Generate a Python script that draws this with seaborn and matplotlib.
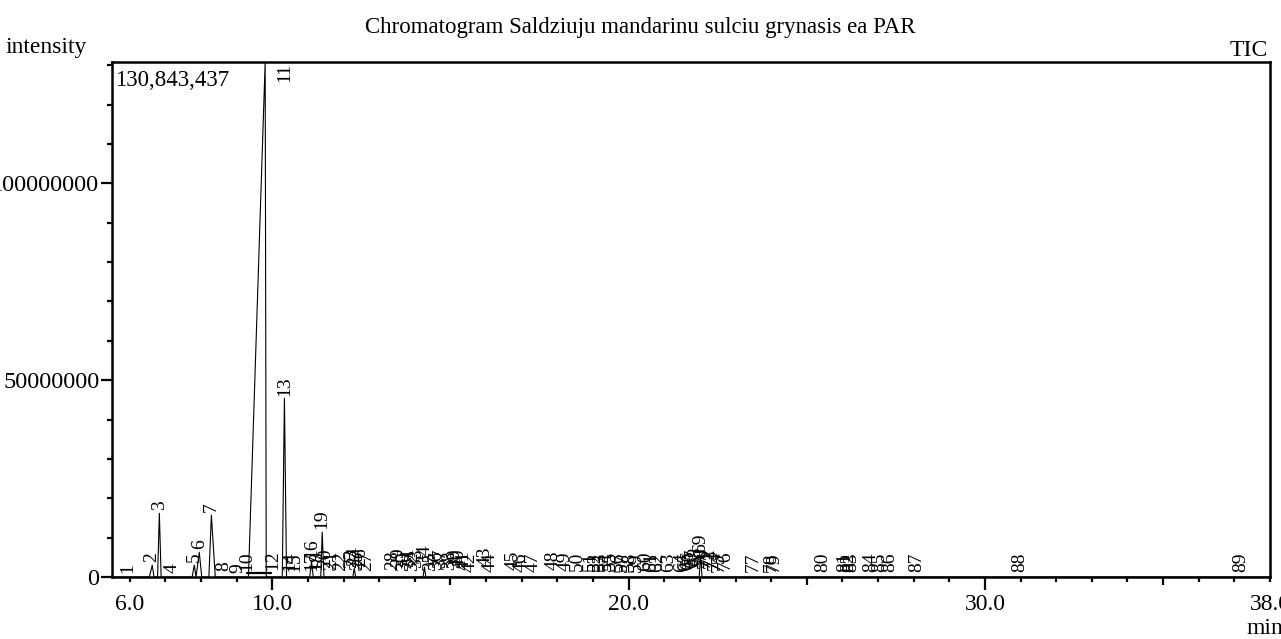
import matplotlib
matplotlib.use("Agg")
import matplotlib.pyplot as plt
from matplotlib.ticker import FixedLocator, FuncFormatter
import seaborn as sns

title = "Chromatogram Saldziuju mandarinu sulciu grynasis ea PAR"
max_intensity = 130843437

# peak table: number, retention time (min), apex intensity
peak_no = list(range(1, 90))
peak_rt = [5.93, 6.60, 6.83, 7.19, 7.81, 7.95, 8.29, 8.65, 9.02, 9.27,
           9.80, 10.00, 10.34, 10.48, 10.62, 11.10, 11.12, 11.24, 11.40, 11.49,
           11.66, 11.91, 12.22, 12.30, 12.39, 12.47, 12.64, 13.37, 13.54, 13.68,
           13.82, 13.93, 14.04, 14.27, 14.44, 14.61, 14.72, 14.97, 15.11, 15.25,
           15.37, 15.56, 15.98, 16.12, 16.77, 16.97, 17.33, 17.89, 18.23, 18.57,
           18.93, 19.07, 19.21, 19.38, 19.49, 19.72, 19.83, 20.03, 20.22, 20.48,
           20.65, 20.81, 21.12, 21.49, 21.60, 21.69, 21.80, 21.88, 22.02, 22.08,
           22.16, 22.25, 22.33, 22.42, 22.53, 22.70, 23.51, 23.99, 24.10, 25.45,
           26.07, 26.18, 26.26, 26.80, 27.05, 27.33, 28.09, 30.98, 37.19]
peak_height = [0.3e6, 3.0e6, 16.2e6, 0.3e6, 3.0e6, 6.3e6, 15.7e6, 0.8e6, 0.3e6, 0.8e6,
               130843437, 1.2e6, 45.4e6, 0.8e6, 0.5e6, 4.0e6, 0.8e6, 1.0e6, 11.4e6, 1.5e6,
               1.0e6, 0.8e6, 1.5e6, 2.2e6, 1.2e6, 1.8e6, 0.8e6, 1.2e6, 1.8e6, 0.8e6,
               1.8e6, 0.8e6, 1.5e6, 2.5e6, 0.8e6, 1.0e6, 1.5e6, 1.2e6, 1.5e6, 1.5e6,
               1.0e6, 0.6e6, 2.0e6, 0.6e6, 1.0e6, 0.5e6, 0.5e6, 1.0e6, 0.8e6, 0.8e6,
               0.8e6, 0.8e6, 0.8e6, 0.8e6, 1.0e6, 0.8e6, 0.6e6, 0.8e6, 0.6e6, 0.8e6,
               0.6e6, 0.5e6, 0.5e6, 0.6e6, 0.8e6, 1.2e6, 1.5e6, 2.0e6, 5.5e6, 2.0e6,
               1.5e6, 1.8e6, 1.5e6, 1.0e6, 0.6e6, 1.0e6, 0.5e6, 0.5e6, 0.5e6, 0.5e6,
               0.5e6, 0.5e6, 0.5e6, 0.5e6, 0.5e6, 0.5e6, 0.5e6, 0.5e6, 0.5e6]

# TIC trace vertices
trace_time = [5.50, 6.55, 6.63, 6.68, 6.78, 6.83, 6.88, 7.75, 7.81, 7.86,
              7.95, 8.02, 8.22, 8.29, 8.40, 9.33, 9.80, 9.83, 10.28, 10.34,
              10.40, 11.05, 11.10, 11.15, 11.36, 11.40, 11.45, 12.26, 12.30, 12.34,
              14.23, 14.27, 14.31, 21.98, 22.02, 22.06, 38.00]
trace_intensity = [0, 0, 3.0e6, 0, 0, 16.2e6, 0, 0, 3.0e6, 0,
                   6.3e6, 0, 0, 15.7e6, 0, 0, 130843437, 0, 0, 45.4e6,
                   0, 0, 4.0e6, 0, 0, 11.4e6, 0, 0, 2.2e6, 0,
                   0, 2.5e6, 0, 0, 5.5e6, 0, 0]

# integration baseline under the big peak
ibase_time = [9.28, 9.95]
ibase_intensity = [1.0e6, 1.0e6]

x_ticks = [6, 10, 20, 30, 38]
y_ticks = [0, 50000000, 100000000]

sns.set_style("ticks", {"axes.edgecolor": "black", "xtick.color": "black",
                        "ytick.color": "black", "text.color": "black",
                        "axes.labelcolor": "black"})
plt.rcParams['font.family'] = ['Liberation Serif', 'DejaVu Serif']

fig = plt.figure(figsize=(12.81, 6.39), dpi=100)
ax = fig.add_axes([0.0874, 0.097, 0.904, 0.806])

sns.lineplot(x=trace_time, y=trace_intensity, sort=False, estimator=None,
             color='black', lw=0.8, ax=ax)
sns.lineplot(x=ibase_time, y=ibase_intensity, sort=False, estimator=None,
             color='black', lw=1.6, ax=ax)

ax.set_xlim(5.5, 38.0)
ax.set_ylim(0, max_intensity)
ax.set_xlabel('')
ax.set_ylabel('')

for s in ax.spines.values():
    s.set_linewidth(1.8)
    s.set_color('black')

# x axis ticks
ax.xaxis.set_major_locator(FixedLocator(x_ticks))
ax.xaxis.set_major_formatter(FuncFormatter(lambda v, p: f'{v:.1f}'))
minor_x = [v for v in range(7, 38) if v not in (10, 20, 30)]
ax.xaxis.set_minor_locator(FixedLocator(minor_x))
ax.tick_params(axis='x', which='major', direction='out', length=9, width=1.6,
               pad=3, labelsize=17)
ax.tick_params(axis='x', which='minor', direction='out', length=3.5, width=1.6)
for t, v in zip(ax.xaxis.get_major_ticks(len(x_ticks)), x_ticks):
    if v in (6, 38):
        t.tick1line.set_markersize(3.5)
for t, v in zip(ax.xaxis.get_minor_ticks(len(minor_x)), minor_x):
    if v in (15, 25, 35):
        t.tick1line.set_markersize(5.5)

# y axis ticks
ax.yaxis.set_major_locator(FixedLocator(y_ticks))
ax.yaxis.set_major_formatter(FuncFormatter(lambda v, p: f'{int(v)}'))
ax.yaxis.set_minor_locator(FixedLocator([v * 1e7 for v in range(1, 14)]))
ax.tick_params(axis='y', which='major', direction='out', length=8, width=1.6,
               pad=1, labelsize=17.5)
ax.tick_params(axis='y', which='minor', direction='out', length=3.5, width=1.6)

# peak numbers
for n, rt, h in zip(peak_no, peak_rt, peak_height):
    if h >= 0.95 * max_intensity:
        ax.annotate(str(n), xy=(rt, max_intensity), xytext=(14, -1),
                    textcoords='offset points', rotation=90, ha='center',
                    va='top', fontsize=14)
    else:
        ax.annotate(str(n), xy=(rt, h), xytext=(0, 2),
                    textcoords='offset points', rotation=90, ha='center',
                    va='bottom', fontsize=14)

ax.text(0.003, 0.985, f'{max_intensity:,}', transform=ax.transAxes,
        ha='left', va='top', fontsize=16.5)

fig.text(0.5, 1 - 28 / 639, title, ha='center', va='center', fontsize=16.5)
fig.text(5 / 1281, 1 - 47 / 639, 'intensity', ha='left', va='center', fontsize=17)
fig.text(1268 / 1281, 1 - 50 / 639, 'TIC', ha='right', va='center', fontsize=17)
fig.text(1265 / 1281, 1 - 629 / 639, 'min', ha='center', va='center', fontsize=17)

fig.savefig('out.png', dpi=100)
